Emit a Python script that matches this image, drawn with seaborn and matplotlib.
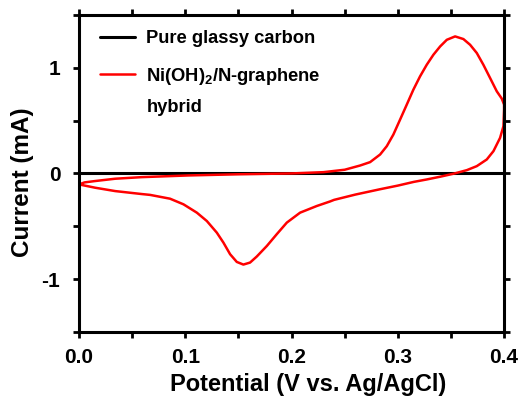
import numpy as np
import pandas as pd
import matplotlib
matplotlib.use('Agg')
import matplotlib.pyplot as plt
import seaborn as sns
from matplotlib.ticker import MultipleLocator

# --- dados ---
# eletrodo de carbono vítreo puro (linha reta em zero)
gc_potential = [0.0, 0.1, 0.2, 0.3, 0.4]
gc_current = [0.0, 0.0, 0.0, 0.0, 0.0]

# voltamograma do híbrido Ni(OH)2/N-grafeno
# varredura de ida (0 -> 0.4 V)
fwd_potential = [
    0.000, 0.005, 0.015, 0.034, 0.059, 0.103, 0.150, 0.200, 0.230, 0.250,
    0.2645, 0.2739, 0.2833, 0.2896, 0.2958, 0.3021, 0.3084, 0.3146, 0.3209,
    0.3272, 0.3335, 0.3398, 0.3461, 0.3539, 0.3617, 0.3680, 0.3743, 0.3805,
    0.3868, 0.3931, 0.3978, 0.4000,
]
fwd_current = [
    -0.104, -0.085, -0.072, -0.050, -0.035, -0.019, -0.008, 0.000, 0.012, 0.035,
    0.075, 0.107, 0.179, 0.258, 0.368, 0.509, 0.651, 0.792, 0.918,
    1.028, 1.123, 1.201, 1.264, 1.296, 1.271, 1.217, 1.139, 1.028,
    0.903, 0.777, 0.708, 0.651,
]
# varredura de volta (0.4 -> 0 V)
rev_potential = [
    0.4000, 0.3994, 0.3962, 0.3900, 0.3837, 0.3743, 0.3649, 0.3523, 0.3398,
    0.3272, 0.3150, 0.3000, 0.2830, 0.2600, 0.2400, 0.2362, 0.2237, 0.2080,
    0.1955, 0.1860, 0.1767, 0.1672, 0.1609, 0.1546, 0.1484, 0.1421, 0.1358,
    0.1296, 0.1202, 0.1108, 0.0982, 0.0856, 0.0668, 0.0590, 0.0340, 0.0150,
    0.0000,
]
rev_current = [
    0.604, 0.447, 0.336, 0.211, 0.132, 0.069, 0.031, -0.003, -0.031,
    -0.057, -0.080, -0.115, -0.150, -0.200, -0.250, -0.265, -0.308, -0.371,
    -0.465, -0.575, -0.686, -0.786, -0.843, -0.862, -0.837, -0.764, -0.654,
    -0.560, -0.450, -0.371, -0.292, -0.239, -0.203, -0.195, -0.167, -0.135,
    -0.104,
]

cv_potential = fwd_potential + rev_potential
cv_current = fwd_current + rev_current

gc_label = 'Pure glassy carbon'
cv_label = 'Ni(OH)$_2$/N-graphene'
cv_label2 = 'hybrid'

# --- estilo ---
sns.set_style('ticks')
plt.rcParams['font.family'] = ['Liberation Sans', 'DejaVu Sans']
plt.rcParams['font.weight'] = 'bold'
plt.rcParams['mathtext.fontset'] = 'custom'
plt.rcParams['mathtext.rm'] = 'Liberation Sans:bold'
plt.rcParams['mathtext.default'] = 'rm'
for k in ['axes.edgecolor', 'text.color', 'axes.labelcolor', 'xtick.color', 'ytick.color']:
    plt.rcParams[k] = 'black'

fig = plt.figure(figsize=(5.24, 4.01), dpi=100)
ax = fig.add_axes([0.151, 0.172, 0.811, 0.791])

sns.lineplot(x=gc_potential, y=gc_current, ax=ax, color='black', lw=2.2,
             label=gc_label, sort=False, estimator=None)
sns.lineplot(x=cv_potential, y=cv_current, ax=ax, color='#ff0000', lw=1.8,
             label=cv_label, sort=False, estimator=None,
             solid_joinstyle='round')

ax.set_xlim(0, 0.4)
ax.set_ylim(-1.5, 1.5)
ax.xaxis.set_minor_locator(MultipleLocator(0.05))
ax.yaxis.set_minor_locator(MultipleLocator(0.5))
ax.set_xticks([0.0, 0.1, 0.2, 0.3, 0.4])
ax.set_xticklabels(['0.0', '0.1', '0.2', '0.3', '0.4'])
ax.set_yticks([-1, 0, 1])
ax.set_yticklabels(['-1', '0', '1'])

for s in ax.spines.values():
    s.set_linewidth(2.2)
    s.set_color('black')
ax.tick_params(which='both', direction='out', width=2, length=4.5,
               top=True, right=True, labelsize=15, color='black', labelcolor='black')
ax.tick_params(axis='x', pad=7)
ax.tick_params(axis='y', pad=9)

ax.set_xlabel('Potential (V vs. Ag/AgCl)', fontsize=17, fontweight='bold')
ax.set_ylabel('Current (mA)', fontsize=17.5, fontweight='bold')
ax.xaxis.set_label_coords(0.539, -0.167)
ax.xaxis.label.set_va('center')
ax.yaxis.set_label_coords(-0.134, 0.473)
ax.yaxis.label.set_va('center')

leg = ax.legend(loc='upper left', bbox_to_anchor=(0.049, 0.952), frameon=False,
                borderaxespad=0, borderpad=0,
                fontsize=13.2, handlelength=1.9, handletextpad=0.6, labelspacing=1.02)
for t in leg.get_texts():
    t.set_fontweight('bold')
ax.text(0.158, 0.709, cv_label2, transform=ax.transAxes, fontsize=13.2,
        fontweight='bold', va='center', ha='left')

fig.savefig('out.png', dpi=100)
